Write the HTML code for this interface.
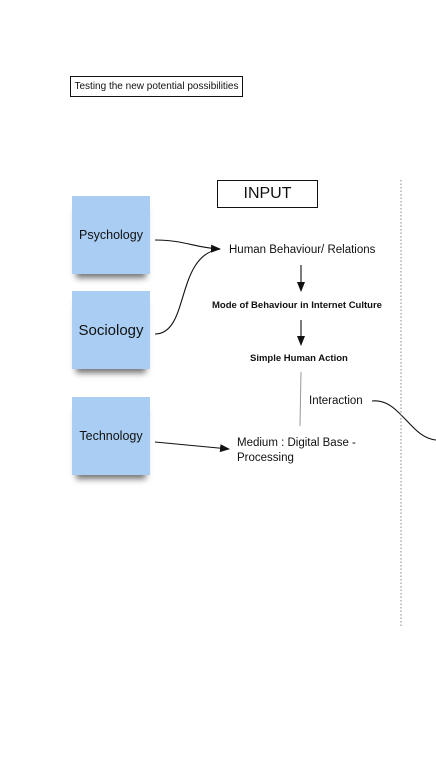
<!DOCTYPE html>
<html><head><style>
body{margin:0;width:436px;height:758px;background:#fff;position:relative;overflow:hidden;font-family:"Liberation Sans",sans-serif;color:#111}
.n{position:absolute;left:72px;width:78px;height:78px;background:#a9cdf3;display:flex;align-items:center;justify-content:center;font-size:12.5px;box-shadow:0 8px 6px -4px rgba(0,0,0,.55)}
.t{position:absolute;white-space:nowrap}
</style></head><body>
<div class="t" style="left:70px;top:76px;width:171px;height:19px;border:1.5px solid #111;font-size:10px;line-height:19px;text-align:center">Testing the new potential possibilities</div>
<div class="t" style="left:217px;top:180px;width:99px;height:26px;border:1.5px solid #111;font-size:16px;line-height:26px;text-align:center">INPUT</div>
<div class="n" style="top:196px">Psychology</div>
<div class="n" style="top:291px;font-size:15px">Sociology</div>
<div class="n" style="top:397px">Technology</div>
<div class="t" style="left:229px;top:244px;font-size:11.5px">Human Behaviour/ Relations</div>
<div class="t" style="left:212px;top:300px;font-size:9.5px;font-weight:bold">Mode of Behaviour in Internet Culture</div>
<div class="t" style="left:250px;top:353px;font-size:9.5px;font-weight:bold">Simple Human Action</div>
<div class="t" style="left:309px;top:395px;font-size:11.5px">Interaction</div>
<div class="t" style="left:237px;top:436px;font-size:11.5px;line-height:15px">Medium : Digital Base -<br>Processing</div>
<svg width="436" height="758" style="position:absolute;left:0;top:0">
<defs><marker id="a" markerWidth="10" markerHeight="8" refX="9" refY="4" orient="auto" markerUnits="userSpaceOnUse"><path d="M0,0L10,4L0,8z" fill="#111"/></marker></defs>
<g fill="none" stroke="#111" stroke-width="1.1">
<path d="M155,240 C185,240 195,248 220,249" marker-end="url(#a)"/>
<path d="M155,334 C190,334 175,255 220,249"/>
<path d="M155,442 L229,449" marker-end="url(#a)"/>
<path d="M301,265 L301,291" marker-end="url(#a)"/>
<path d="M301,320 L301,345" marker-end="url(#a)"/>
<path d="M372,401 C400,398 410,438 436,440"/>
</g>
<line x1="301" y1="372" x2="300" y2="426" stroke="#999" stroke-width="1"/>
<line x1="401" y1="180" x2="401" y2="626" stroke="#888" stroke-width="1" stroke-dasharray="1.5,2"/>
</svg>
</body></html>
